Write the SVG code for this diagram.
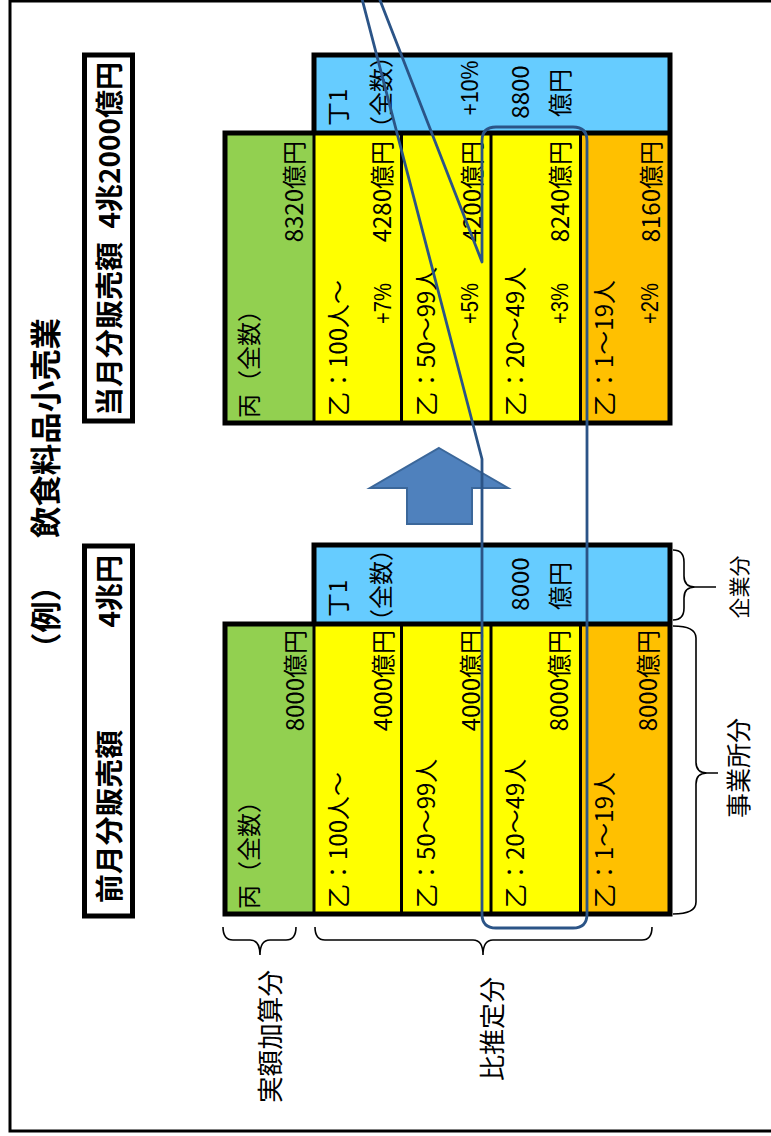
<svg xmlns="http://www.w3.org/2000/svg" width="771" height="1136" viewBox="0 0 771 1136">
<style>
.t{font-family:"Noto Sans CJK JP","Liberation Sans",sans-serif;font-size:24px;fill:#000;dominant-baseline:central}
.p{font-family:"Liberation Sans","Noto Sans CJK JP",sans-serif;font-size:23px}
.b{font-weight:700;font-size:28px}
.ti{font-weight:700;font-size:31px}
.s{text-anchor:start}.e{text-anchor:end}.m{text-anchor:middle}
.g{fill:#92D050}.bl{fill:#66CCFF}.y{fill:#FFFF00}.o{fill:#FFC000}
.ob{fill:none;stroke:#000;stroke-width:5;stroke-linejoin:miter}
.d{fill:none;stroke:#000;stroke-width:3}
.br{fill:none;stroke:#000;stroke-width:1.6}
.ln{fill:none;stroke:#2B5487;stroke-width:2.8;stroke-linejoin:round}
</style>
<rect x="10" y="1" width="800" height="1130" fill="#fff" stroke="#000" stroke-width="3"/>

<g id="title">
<text class="t ti m" transform="translate(43,617) rotate(-90)">（例）</text>
<text class="t ti s" transform="translate(43,538) rotate(-90)" textLength="220" lengthAdjust="spacingAndGlyphs">飲食料品小売業</text>
</g>

<g id="box-current">
<rect x="84.5" y="55" width="48" height="366" fill="#fff" stroke="#000" stroke-width="5"/>
<text class="t b s" transform="translate(108,416) rotate(-90)" textLength="174" lengthAdjust="spacingAndGlyphs">当月分販売額</text>
<text class="t b e" transform="translate(108,62) rotate(-90)">4兆2000億円</text>
</g>

<g id="box-previous">
<rect x="84.5" y="546" width="48" height="370" fill="#fff" stroke="#000" stroke-width="5"/>
<text class="t b s" transform="translate(108,903) rotate(-90)" textLength="173" lengthAdjust="spacingAndGlyphs">前月分販売額</text>
<text class="t b e" transform="translate(108,555) rotate(-90)">4兆円</text>
</g>

<g id="table-current">
<g id="u-hei"><rect class="g" x="225" y="133" width="89" height="290"/>
<text class="t s" transform="translate(247,418) rotate(-90)">丙（全数）</text>
<text class="t e" transform="translate(292,141) rotate(-90)">8320億円</text></g>
<g id="u-tei"><rect class="bl" x="314" y="55" width="356" height="78"/>
<text class="t s" transform="translate(336,126) rotate(-90)">丁1</text>
<text class="t m" transform="translate(379,92) rotate(-90)">（全数）</text>
<text class="t p m" transform="translate(470,88) rotate(-90)" textLength="55" lengthAdjust="spacingAndGlyphs">+10%</text>
<text class="t m" transform="translate(518,92) rotate(-90)">8800</text>
<text class="t m" transform="translate(558,93) rotate(-90)">億円</text></g>
<g id="u-otsu100"><rect class="y" x="314" y="133" width="87.5" height="290"/>
<text class="t s" transform="translate(336,416) rotate(-90)">乙：100人～</text>
<text class="t p s" transform="translate(383,324) rotate(-90)" textLength="41" lengthAdjust="spacingAndGlyphs">+7%</text>
<text class="t e" transform="translate(380,141) rotate(-90)">4280億円</text></g>
<g id="u-otsu50"><rect class="y" x="401.5" y="133" width="89.5" height="290"/>
<text class="t s" transform="translate(424,416) rotate(-90)">乙：50～99人</text>
<text class="t p s" transform="translate(470,324) rotate(-90)" textLength="41" lengthAdjust="spacingAndGlyphs">+5%</text>
<text class="t e" transform="translate(470,141) rotate(-90)">4200億円</text></g>
<g id="u-otsu20"><rect class="y" x="491" y="133" width="89.5" height="290"/>
<text class="t s" transform="translate(513,416) rotate(-90)">乙：20～49人</text>
<text class="t p s" transform="translate(560,324) rotate(-90)" textLength="41" lengthAdjust="spacingAndGlyphs">+3%</text>
<text class="t e" transform="translate(558,141) rotate(-90)">8240億円</text></g>
<g id="u-otsu1"><rect class="o" x="580.5" y="133" width="89.5" height="290"/>
<text class="t s" transform="translate(602,416) rotate(-90)">乙：1～19人</text>
<text class="t p s" transform="translate(650,324) rotate(-90)" textLength="41" lengthAdjust="spacingAndGlyphs">+2%</text>
<text class="t e" transform="translate(649,141) rotate(-90)">8160億円</text></g>
<path class="ob" d="M225,133 H314 V55 H670 V423 H225 Z M314,133 H670"/>
<path class="d" stroke-width="4" d="M314,133 V423"/>
<path class="d" d="M401.5,133 V423 M491,133 V423 M580.5,133 V423"/>
</g>

<g id="table-previous">
<g id="d-hei"><rect class="g" x="225" y="624" width="89" height="290"/>
<text class="t s" transform="translate(247,909) rotate(-90)">丙（全数）</text>
<text class="t e" transform="translate(293,630) rotate(-90)">8000億円</text></g>
<g id="d-tei"><rect class="bl" x="314" y="545" width="356" height="79"/>
<text class="t s" transform="translate(336,617) rotate(-90)">丁1</text>
<text class="t m" transform="translate(379,585) rotate(-90)">（全数）</text>
<text class="t m" transform="translate(518,584) rotate(-90)">8000</text>
<text class="t m" transform="translate(558,586) rotate(-90)">億円</text></g>
<g id="d-otsu100"><rect class="y" x="314" y="624" width="87.5" height="290"/>
<text class="t s" transform="translate(336,908) rotate(-90)">乙：100人～</text>
<text class="t e" transform="translate(381,630) rotate(-90)">4000億円</text></g>
<g id="d-otsu50"><rect class="y" x="401.5" y="624" width="89.5" height="290"/>
<text class="t s" transform="translate(424,908) rotate(-90)">乙：50～99人</text>
<text class="t e" transform="translate(469,630) rotate(-90)">4000億円</text></g>
<g id="d-otsu20"><rect class="y" x="491" y="624" width="89.5" height="290"/>
<text class="t s" transform="translate(513,908) rotate(-90)">乙：20～49人</text>
<text class="t e" transform="translate(557,630) rotate(-90)">8000億円</text></g>
<g id="d-otsu1"><rect class="o" x="580.5" y="624" width="89.5" height="290"/>
<text class="t s" transform="translate(602,908) rotate(-90)">乙：1～19人</text>
<text class="t e" transform="translate(646,630) rotate(-90)">8000億円</text></g>
<path class="ob" d="M225,624 H314 V545 H670 V914 H225 Z M314,624 H670"/>
<path class="d" stroke-width="4" d="M314,624 V914"/>
<path class="d" d="M401.5,624 V914 M491,624 V914 M580.5,624 V914"/>
</g>

<g id="arrow-up">
<polygon points="439,448 508,488 472,488 472,524 407,524 407,488 370,488" fill="#4F81BD" stroke="#3B679A" stroke-width="2"/>
</g>

<g id="connectors">
<path class="ln" d="M378,-5 L482,262 L482,141 Q482,127 496,127 L573,127 Q587,127 587,141 L587,914 Q587,928 573,928 L496,928 Q482,928 482,914 L482,459 L361,-5"/>
</g>

<g id="braces">
<path class="br" d="M223,927 Q223,940 233,940 H250 Q260,940 260,955 Q260,940 270,940 H286 Q296,940 296,927"/>
<path class="br" d="M315,927 Q315,940 325,940 H473 Q483,940 483,955 Q483,940 493,940 H642 Q652,940 652,927"/>
<path class="br" d="M673,550 Q684,550 684,562 V576 Q684,587 695,587 L716,587 M695,587 Q684,587 684,598 V608 Q684,620 673,620"/>
<path class="br" d="M673,626 Q696,626 696,638 V762 Q696,773 707,773 L718,773 M707,773 Q696,773 696,784 V902 Q696,914 673,914"/>
</g>

<g id="labels">
<text class="t m" style="font-size:21px" transform="translate(738,587) rotate(-90)">企業分</text>
<text class="t m" style="font-size:25px" transform="translate(737,768) rotate(-90)">事業所分</text>
<text class="t s" style="font-size:26px" transform="translate(268,1103) rotate(-90)" textLength="133" lengthAdjust="spacingAndGlyphs">実額加算分</text>
<text class="t s" style="font-size:26px" transform="translate(490,1081) rotate(-90)" textLength="104" lengthAdjust="spacingAndGlyphs">比推定分</text>
</g>
</svg>
